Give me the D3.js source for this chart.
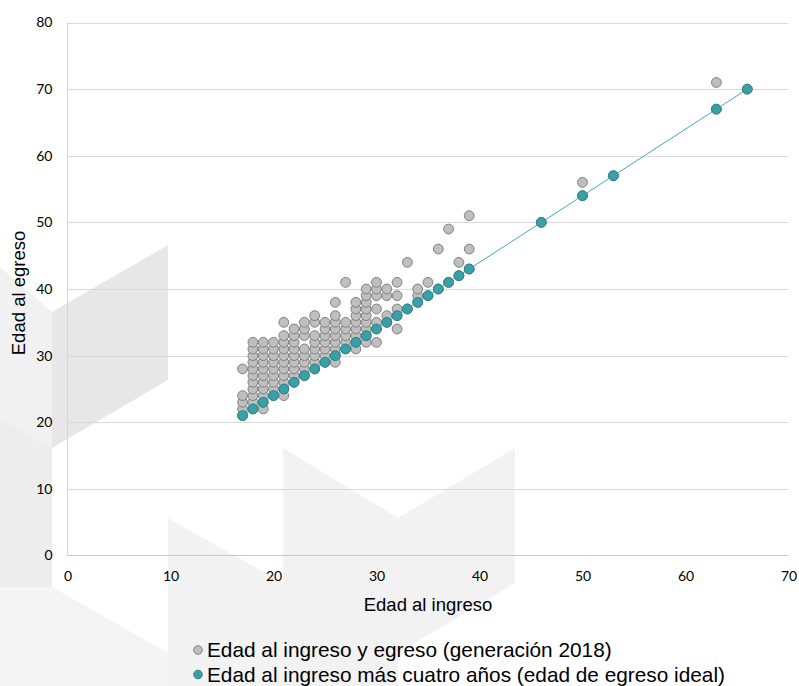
<!DOCTYPE html>
<html>
<head>
<meta charset="utf-8">
<script src="https://cdn.jsdelivr.net/npm/d3@7"></script>
<style>
  html, body { margin: 0; padding: 0; background: #ffffff; }
  svg { display: block; }
</style>
</head>
<body>
<svg id="chart" width="799" height="686"></svg>
<script>
// ---------------- DATA ----------------
// Edad al ingreso (x) and the observed ages at egreso for each ingreso age
const ingresoEdades = [17, 18, 19, 20, 21, 22, 23, 24, 25, 26, 27, 28, 29, 30, 31, 32, 33, 34, 35, 36, 37, 38, 39, 46, 50, 53, 63, 66];
const egresoObservado = [
  [21, 22, 23, 24, 28],
  [22, 23, 24, 25, 26, 27, 28, 29, 30, 31, 32],
  [22, 23, 24, 25, 26, 27, 28, 29, 30, 31, 32],
  [24, 25, 26, 27, 28, 29, 30, 31, 32],
  [24, 25, 26, 27, 28, 29, 30, 31, 32, 33, 35],
  [26, 27, 28, 29, 30, 31, 32, 33, 34],
  [27, 28, 29, 30, 31, 33, 34, 35],
  [28, 29, 30, 31, 32, 33, 35, 36],
  [29, 30, 31, 32, 33, 34, 35],
  [29, 30, 31, 32, 33, 34, 35, 36, 38],
  [31, 32, 33, 34, 35, 41],
  [31, 32, 33, 34, 35, 36, 37, 38],
  [32, 33, 34, 35, 36, 37, 38, 39, 40],
  [32, 34, 35, 37, 39, 40, 41],
  [35, 36, 39, 40],
  [34, 36, 37, 39, 41],
  [37, 44],
  [38, 39, 40],
  [39, 41],
  [40, 46],
  [41, 49],
  [42, 44],
  [43, 46, 51],
  [50],
  [54, 56],
  [57],
  [67, 71],
  [70]
];
// Ideal egreso age (ingreso + 4 years)
const idealIngreso = [17, 18, 19, 20, 21, 22, 23, 24, 25, 26, 27, 28, 29, 30, 31, 32, 33, 34, 35, 36, 37, 38, 39, 46, 50, 53, 63, 66];
const idealEgreso  = [21, 22, 23, 24, 25, 26, 27, 28, 29, 30, 31, 32, 33, 34, 35, 36, 37, 38, 39, 40, 41, 42, 43, 50, 54, 57, 67, 70];

const xTicks = [0, 10, 20, 30, 40, 50, 60, 70];
const yTicks = [0, 10, 20, 30, 40, 50, 60, 70, 80];

const xTitle = "Edad al ingreso";
const yTitle = "Edad al egreso";
const legendLabels = [
  "Edad al ingreso y egreso (generación 2018)",
  "Edad al ingreso más cuatro años (edad de egreso ideal)"
];

// ---------------- DRAW ----------------
const svg = d3.select("#chart");

// decorative watermark background
const bg = svg.append("g");
const shapes = [
  { c: "#f1f1f1", p: [[0,267],[52,312],[52,448],[0,418]] },
  { c: "#ededed", p: [[0,418],[52,448],[52,587],[0,587]] },
  { c: "#f5f5f5", p: [[0,587],[52,587],[52,686],[0,686]] },
  { c: "#e7e7e7", p: [[52,312],[168,245],[168,380],[52,448]] },
  { c: "#f4f4f4", p: [[52,587],[168,653],[168,686],[52,686]] },
  { c: "#f3f3f3", p: [[168,518],[283,583],[283,686],[168,686]] },
  { c: "#f2f2f2", p: [[283,448],[398,518],[515,448],[515,583],[398,653],[398,686],[283,686]] }
];
bg.selectAll("polygon").data(shapes).join("polygon")
  .attr("points", d => d.p.map(q => q.join(",")).join(" "))
  .attr("fill", d => d.c);

const x = d3.scaleLinear().domain([0, 70]).range([67.5, 788.5]);
const y = d3.scaleLinear().domain([0, 80]).range([555.5, 22.5]);

// gridlines
svg.append("g")
  .selectAll("line").data(yTicks.filter(v => v > 0)).join("line")
  .attr("x1", x(0)).attr("x2", x(70))
  .attr("y1", d => Math.round(y(d)) + 0.5).attr("y2", d => Math.round(y(d)) + 0.5)
  .attr("stroke", "#d9d9d9").attr("stroke-width", 1);

// axis lines
svg.append("line")
  .attr("x1", x(0)).attr("x2", x(0)).attr("y1", y(80)).attr("y2", y(0))
  .attr("stroke", "#d4d4d4").attr("stroke-width", 1);
svg.append("line")
  .attr("x1", x(0)).attr("x2", x(70)).attr("y1", y(0)).attr("y2", y(0))
  .attr("stroke", "#c8c8c8").attr("stroke-width", 1);

// axes (labels only)
const yAxis = svg.append("g").attr("transform", `translate(${x(0)},0)`)
  .call(d3.axisLeft(y).tickValues(yTicks).tickSize(0).tickPadding(15));
const xAxis = svg.append("g").attr("transform", `translate(0,${y(0)})`)
  .call(d3.axisBottom(x).tickValues(xTicks).tickSize(0).tickPadding(16));
[yAxis, xAxis].forEach(a => {
  a.select(".domain").remove();
  a.selectAll("text")
    .attr("font-family", "Lato, 'Open Sans', sans-serif")
    .attr("font-size", 14)
    .attr("fill", "#000");
});

// axis titles
svg.append("text")
  .attr("x", 428).attr("y", 605).attr("dy", "0.35em")
  .attr("text-anchor", "middle")
  .attr("font-family", "'Liberation Sans', Arial, sans-serif")
  .attr("font-size", 18.5).attr("fill", "#000")
  .text(xTitle);
svg.append("text")
  .attr("transform", "translate(19,293) rotate(-90)")
  .attr("dy", "0.35em")
  .attr("text-anchor", "middle")
  .attr("font-family", "'Liberation Sans', Arial, sans-serif")
  .attr("font-size", 18.5).attr("fill", "#000")
  .text(yTitle);

// observed points
const observed = [];
ingresoEdades.forEach((a, i) => egresoObservado[i].forEach(e => observed.push([a, e])));

svg.append("g").selectAll("circle").data(observed).join("circle")
  .attr("cx", d => x(d[0])).attr("cy", d => y(d[1]))
  .attr("r", 4.9)
  .attr("fill", "#bfbfbf").attr("stroke", "#808080").attr("stroke-width", 1);

// ideal line + points
const ideal = idealIngreso.map((a, i) => [a, idealEgreso[i]]);
svg.append("path").datum(ideal)
  .attr("d", d3.line().x(d => x(d[0])).y(d => y(d[1])))
  .attr("fill", "none").attr("stroke", "#47a9b0").attr("stroke-width", 1);
svg.append("g").selectAll("circle").data(ideal).join("circle")
  .attr("cx", d => x(d[0])).attr("cy", d => y(d[1]))
  .attr("r", 4.9)
  .attr("fill", "#39a0a7").attr("stroke", "#2a8289").attr("stroke-width", 1);

// legend
const legend = svg.append("g");
const legendColors = [["#bfbfbf", "#808080"], ["#39a0a7", "#2a8289"]];
legendLabels.forEach((lab, i) => {
  const cy = 650 + i * 24.5;
  legend.append("circle").attr("cx", 198).attr("cy", cy).attr("r", 4.3)
    .attr("fill", legendColors[i][0]).attr("stroke", legendColors[i][1]).attr("stroke-width", 1);
  legend.append("text").attr("x", 207).attr("y", cy).attr("dy", "0.35em")
    .attr("font-family", "'Liberation Sans', Arial, sans-serif")
    .attr("font-size", 20.8).attr("fill", "#000")
    .text(lab);
});
</script>
</body>
</html>
